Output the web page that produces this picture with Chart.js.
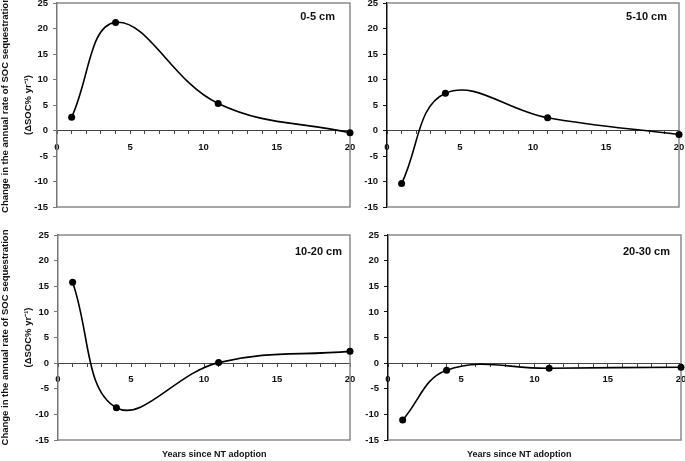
<!DOCTYPE html>
<html>
<head>
<meta charset="utf-8">
<script src="https://cdn.jsdelivr.net/npm/chart.js@4"></script>
<style>
  html, body { margin: 0; padding: 0; background: #fff; }
  body { width: 685px; height: 461px; position: relative; overflow: hidden; }
  canvas { position: absolute; }
  .xtitle {
    position: absolute;
    font: bold 9px "Liberation Sans", Arial, sans-serif;
    line-height: 11px;
    color: #111;
    white-space: nowrap;
  }
</style>
</head>
<body>
<canvas id="p1" width="364" height="228" style="left:0;top:-9px"></canvas>
<canvas id="p2" width="353" height="228" style="left:340px;top:-9px"></canvas>
<canvas id="p3" width="364" height="229" style="left:0;top:223px"></canvas>
<canvas id="p4" width="355" height="229" style="left:340px;top:223px"></canvas>
<div class="xtitle" style="left:162px;top:449px">Years since NT adoption</div>
<div class="xtitle" style="left:467px;top:449px">Years since NT adoption</div>

<script>
// ---- data ----
const years = [1, 4, 11, 20];
const soc0to5 = [2.6, 21.2, 5.3, -0.45];
const soc5to10 = [-10.4, 7.3, 2.5, -0.8];
const soc10to20 = [15.8, -8.7, 0.1, 2.3];
const soc20to30 = [-11.1, -1.4, -1.0, -0.8];
const depthLabels = ['0-5 cm', '5-10 cm', '10-20 cm', '20-30 cm'];
const yRange = [-15, 25];
const yStep = 5;
const xRange = [0, 20];
const xLabelEvery = 5;
const yTitle = ['Change in the annual rate of SOC sequestration', '(\u0394SOC% yr\u207B\u00B9)'];

const FONT = '"Liberation Sans", Arial, sans-serif';

// frame round the plot + depth label in the corner
const panelFrame = {
  id: 'panelFrame',
  beforeDatasetsDraw(chart) {
    const { ctx, chartArea: a } = chart;
    ctx.save();
    ctx.strokeStyle = '#8a8a8a';
    ctx.lineWidth = 1.5;
    ctx.beginPath();
    ctx.moveTo(a.left, a.top);
    ctx.lineTo(a.right, a.top);
    ctx.lineTo(a.right, a.bottom);
    ctx.lineTo(a.left, a.bottom);
    ctx.stroke();
    ctx.restore();
  },
  afterDraw(chart, args, opts) {
    const { ctx, chartArea: a } = chart;
    ctx.save();
    ctx.font = 'bold 11px ' + FONT;
    ctx.fillStyle = '#111';
    ctx.textAlign = 'right';
    ctx.textBaseline = 'middle';
    ctx.fillText(opts.label, a.right - opts.dx, a.top + opts.dy);
    ctx.restore();
  }
};

function makePanel(canvasId, values, cfg) {
  const points = years.map((yr, i) => ({ x: yr, y: values[i] }));
  return new Chart(document.getElementById(canvasId), {
    type: 'line',
    data: {
      datasets: [{
        data: points,
        borderColor: '#000',
        borderWidth: 1.6,
        backgroundColor: '#000',
        pointRadius: 3.5,
        pointBorderWidth: 0,
        tension: 0.4,
        clip: false
      }]
    },
    options: {
      responsive: false,
      animation: false,
      events: [],
      layout: { padding: { top: 12, bottom: 12, left: 0, right: 14 } },
      scales: {
        x: {
          type: 'linear',
          min: xRange[0],
          max: xRange[1],
          position: { y: 0 },
          grid: { drawOnChartArea: false, tickLength: 3, color: '#444' },
          border: { color: '#444', width: 1 },
          ticks: {
            stepSize: 1,
            autoSkip: false,
            maxRotation: 0,
            padding: 8,
            color: '#111',
            font: { family: FONT, size: 9.5, weight: 'bold' },
            callback: v => (v % xLabelEvery === 0 ? v : '')
          }
        },
        y: {
          min: yRange[0],
          max: yRange[1],
          grid: { drawOnChartArea: false, tickLength: 4, color: cfg.axisColor },
          border: { color: cfg.axisColor, width: 1.5 },
          ticks: {
            stepSize: yStep,
            padding: 5,
            color: '#111',
            font: { family: FONT, size: 9.5, weight: 'bold' }
          },
          title: {
            display: cfg.showTitle,
            text: yTitle,
            color: '#111',
            font: { family: FONT, size: 9.5, weight: 'bold', lineHeight: '23px' },
            padding: { top: -6.5, bottom: 0 }
          },
          afterFit(scale) { scale.width = cfg.yWidth; }
        }
      },
      plugins: {
        legend: { display: false },
        tooltip: { enabled: false },
        panelFrame: { label: cfg.label, dx: cfg.dx, dy: cfg.dy }
      }
    },
    plugins: [panelFrame]
  });
}

makePanel('p1', soc0to5, { label: depthLabels[0], yWidth: 57, showTitle: true, axisColor: '#777', dx: 15, dy: 14 });
makePanel('p2', soc5to10, { label: depthLabels[1], yWidth: 47, showTitle: false, axisColor: '#111', dx: 12, dy: 14 });
makePanel('p3', soc10to20, { label: depthLabels[2], yWidth: 58, showTitle: true, axisColor: '#777', dx: 8, dy: 17 });
makePanel('p4', soc20to30, { label: depthLabels[3], yWidth: 48, showTitle: false, axisColor: '#111', dx: 11, dy: 17 });
</script>
</body>
</html>
